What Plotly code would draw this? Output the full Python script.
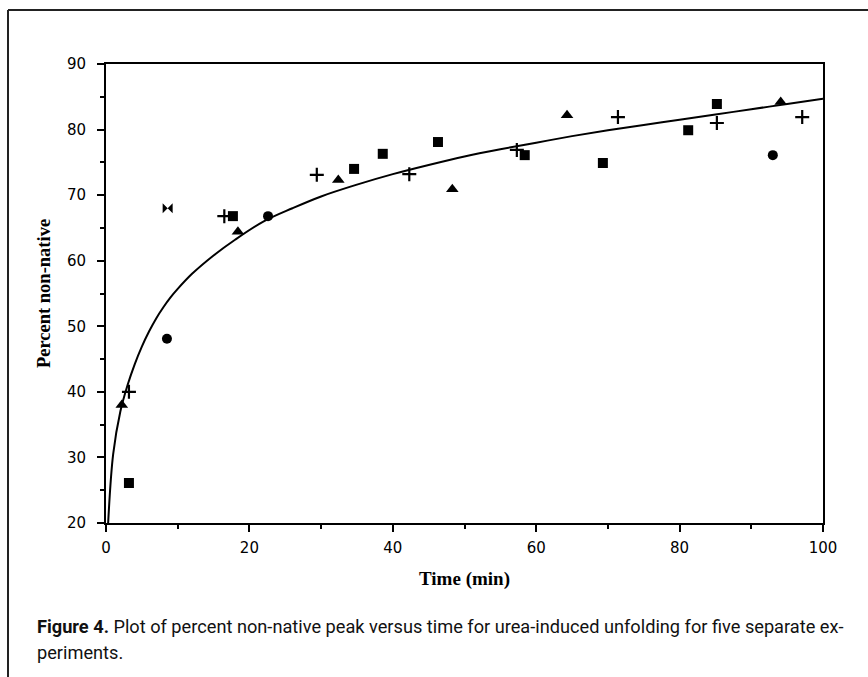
import plotly.graph_objects as go

# ---- data ----
tri_x = [2.2, 18.4, 32.4, 48.3, 64.3, 94.1]
tri_y = [38.0, 64.4, 72.3, 70.9, 82.2, 84.2]

sq_x = [3.2, 17.7, 34.6, 38.6, 46.3, 58.4, 69.3, 81.2, 85.2]
sq_y = [26.1, 66.8, 74.0, 76.3, 78.1, 76.1, 74.9, 79.9, 83.9]

circ_x = [8.5, 22.6, 93.0]
circ_y = [48.1, 66.8, 76.1]

plus_x = [3.2, 16.5, 29.4, 42.3, 57.3, 71.4, 85.2, 97.1]
plus_y = [40.0, 66.8, 73.1, 73.2, 76.9, 81.9, 81.0, 81.9]

bow_x = [8.6]
bow_y = [68.0]

fit_x = [0.3, 1, 2, 3, 4, 5, 6, 7, 8, 9, 10, 12, 15, 18, 22, 26, 30, 35, 40, 45,
         50, 55, 60, 65, 70, 75, 80, 85, 90, 95, 100]
fit_y = [20.0, 30.5, 37.0, 41.0, 44.2, 46.9, 49.2, 51.2, 52.9, 54.4, 55.7, 58.0,
         60.8, 63.2, 66.0, 68.0, 69.8, 71.6, 73.2, 74.6, 75.9, 77.0, 78.0, 79.0,
         79.9, 80.7, 81.5, 82.3, 83.1, 83.9, 84.7]

x_ticks = [0, 20, 40, 60, 80, 100]
y_ticks = [20, 30, 40, 50, 60, 70, 80, 90]

caption_1 = ("<b>Figure 4.</b> Plot of percent non-native peak versus time for "
             "urea-induced unfolding for five separate ex-")
caption_2 = "periments."

fig = go.Figure()

fig.add_trace(go.Scatter(x=fit_x, y=fit_y, mode="lines",
                         line=dict(color="black", width=2, shape="spline", smoothing=1.0),
                         hoverinfo="skip", showlegend=False))

def add_markers(xs, ys, symbol, size, lw=0):
    fig.add_trace(go.Scatter(
        x=xs, y=ys, mode="markers", showlegend=False,
        marker=dict(symbol=symbol, size=size, color="black",
                    line=dict(color="black", width=lw))))

add_markers(tri_x, tri_y, "triangle-up", 11)
add_markers(sq_x, sq_y, "square", 10)
add_markers(circ_x, circ_y, "circle", 10)
add_markers(plus_x, plus_y, "cross-thin", 10, lw=2.2)
add_markers(bow_x, bow_y, "bowtie", 10)

W, H = 868, 677
L, R, T, B = 106, 45, 64, 154
pw, ph = W - L - R, H - T - B

def px_x(p):
    return (p - L) / pw

def px_y(p):
    return (H - B - p) / ph

cap_font = dict(family="Roboto, Liberation Sans, Arial", size=18.2, color="#111")

fig.update_layout(
    width=W, height=H,
    margin=dict(l=L, r=R, t=T, b=B),
    paper_bgcolor="white", plot_bgcolor="white",
    font=dict(family="DejaVu Sans, Arial", color="black", size=15),
    xaxis=dict(range=[0, 100], tickvals=x_ticks, ticktext=[str(v) for v in x_ticks],
               ticks="outside", ticklen=7, tickwidth=2, tickcolor="black",
               ticklabelstandoff=3,
               showline=True, linewidth=2, linecolor="black", mirror=True,
               showgrid=False, zeroline=False,
               minor=dict(dtick=10, ticks="outside", ticklen=4, tickwidth=2, tickcolor="black"),
               tickfont=dict(size=15, family="DejaVu Sans, Arial"),
               title=dict(text="<b>Time (min)</b>", standoff=16,
                          font=dict(family="Liberation Serif, Times New Roman, serif", size=19))),
    yaxis=dict(range=[20, 90], tickvals=y_ticks, ticktext=[str(v) for v in y_ticks],
               ticks="outside", ticklen=7, tickwidth=2, tickcolor="black",
               ticklabelstandoff=8,
               showline=True, linewidth=2, linecolor="black", mirror=True,
               showgrid=False, zeroline=False,
               minor=dict(dtick=5, ticks="outside", ticklen=4, tickwidth=2, tickcolor="black"),
               tickfont=dict(size=15, family="DejaVu Sans, Arial"),
               title=dict(text="<b>Percent non-native</b>", standoff=11,
                          font=dict(family="Liberation Serif, Times New Roman, serif", size=18.5))),
    shapes=[
        dict(type="line", xref="paper", yref="paper",
             x0=px_x(8), x1=px_x(868), y0=px_y(10), y1=px_y(10),
             line=dict(color="#222", width=2)),
        dict(type="line", xref="paper", yref="paper",
             x0=px_x(8), x1=px_x(8), y0=px_y(10), y1=px_y(677),
             line=dict(color="#222", width=2)),
    ],
    annotations=[
        dict(text=caption_1, xref="paper", yref="paper", x=px_x(35), y=px_y(626),
             xanchor="left", yanchor="middle", showarrow=False, font=cap_font),
        dict(text=caption_2, xref="paper", yref="paper", x=px_x(35), y=px_y(652),
             xanchor="left", yanchor="middle", showarrow=False, font=cap_font),
    ],
)

fig.write_html("out.html", config={"displayModeBar": False},
               post_script="document.body.style.margin='0';")
